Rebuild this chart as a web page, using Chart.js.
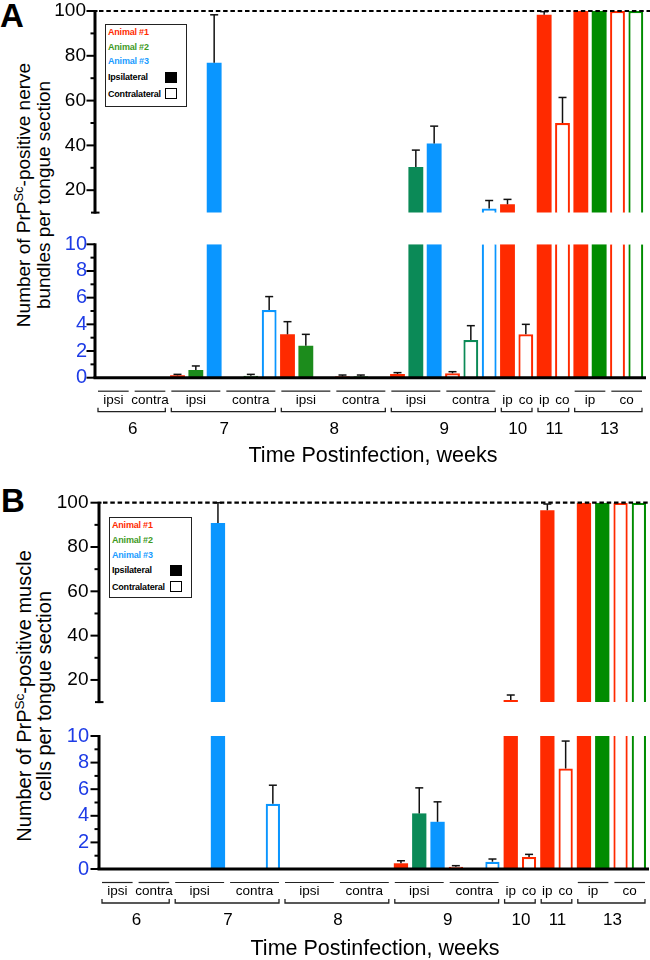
<!DOCTYPE html>
<html><head><meta charset="utf-8">
<script src="https://cdn.jsdelivr.net/npm/chart.js@4.4.1/dist/chart.umd.min.js"></script>
<style>
html,body{margin:0;padding:0;background:#fff;width:650px;height:960px;overflow:hidden;}
body{position:relative;font-family:"Liberation Sans",Arial,Helvetica,sans-serif;color:#000;}
canvas{position:absolute;left:0;}
.letter{position:absolute;font-weight:bold;font-size:33px;line-height:33px;}
.ytitle{position:absolute;transform:rotate(-90deg);text-align:center;white-space:nowrap;line-height:20px;}
.ytitle sup{font-size:0.68em;line-height:0;vertical-align:0.55em;}
.legend{position:absolute;border:1.6px solid #222;box-sizing:border-box;background:#fff;}
.legend .t{position:absolute;left:2px;font-weight:bold;font-size:9px;line-height:10px;white-space:nowrap;letter-spacing:-0.2px;}
.legend .sq{position:absolute;width:12px;height:11px;box-sizing:border-box;border:1.3px solid #000;}
</style></head><body>
<div class="letter" style="left:0px;top:-1px;">A</div>
<div class="letter" style="left:1px;top:484px;">B</div>
<div class="ytitle" style="left:-166px;top:175px;width:400px;height:40px;font-size:19px;">Number of PrP<sup>Sc</sup>-positive nerve<br>bundles per tongue section</div>
<div class="ytitle" style="left:-166px;top:676px;width:400px;height:40px;font-size:20px;">Number of PrP<sup>Sc</sup>-positive muscle<br>cells per tongue section</div>

<div class="legend" style="left:105px;top:24px;width:82px;height:83px;z-index:5;">
  <div class="t" style="top:2.4px;color:#ff2a00;">Animal #1</div>
  <div class="t" style="top:17.4px;color:#3f9a1f;">Animal #2</div>
  <div class="t" style="top:31.4px;color:#1a9cff;">Animal #3</div>
  <div class="t" style="top:47.4px;">Ipsilateral</div>
  <div class="t" style="top:64.4px;">Contralateral</div>
  <div class="sq" style="left:59.4px;top:47.4px;background:#000;"></div>
  <div class="sq" style="left:59.4px;top:63.4px;background:#fff;"></div>
</div>
<div class="legend" style="left:109px;top:517px;width:83px;height:81px;z-index:5;">
  <div class="t" style="top:1.7px;color:#ff2a00;">Animal #1</div>
  <div class="t" style="top:16.7px;color:#3f9a1f;">Animal #2</div>
  <div class="t" style="top:31.7px;color:#1a9cff;">Animal #3</div>
  <div class="t" style="top:46.7px;">Ipsilateral</div>
  <div class="t" style="top:63.7px;">Contralateral</div>
  <div class="sq" style="left:60.4px;top:46.7px;background:#000;"></div>
  <div class="sq" style="left:60.4px;top:63.4px;background:#fff;"></div>
</div>

<script>
Chart.defaults.font.family = '"Liberation Sans", Arial, Helvetica, sans-serif';

// ---------------- DATA ----------------
const categories = [
  '6 ipsi #1','6 ipsi #2','6 contra #1','6 contra #2',
  '7 ipsi #1','7 ipsi #2','7 ipsi #3','7 contra #1','7 contra #2','7 contra #3',
  '8 ipsi #1','8 ipsi #2','8 ipsi #3','8 contra #1','8 contra #2','8 contra #3',
  '9 ipsi #1','9 ipsi #2','9 ipsi #3','9 contra #1','9 contra #2','9 contra #3',
  '10 ip #1','10 co #1','11 ip #1','11 co #1',
  '13 ip #1','13 ip #2','13 co #1','13 co #2'
];
const slotAnimal = [1,2,1,2, 1,2,3,1,2,3, 1,2,3,1,2,3, 1,2,3,1,2,3, 1,1, 1,1, 1,2,1,2];
const slotSide   = ['I','I','C','C', 'I','I','I','C','C','C', 'I','I','I','C','C','C',
                    'I','I','I','C','C','C', 'I','C', 'I','C', 'I','I','C','C'];

const weekLabels = ['6','7','8','9','10','11','13'];
const weekSpans  = [[0,3],[4,9],[10,15],[16,21],[22,23],[24,25],[26,29]];
const sideLabels = ['ipsi','contra','ipsi','contra','ipsi','contra','ipsi','contra','ip','co','ip','co','ip','co'];
const sideSpans  = [[0,1],[2,3],[4,6],[7,9],[10,12],[13,15],[16,18],[19,21],[22,22],[23,23],[24,24],[25,25],[26,27],[28,29]];

const upperTicks = [10,20,30,40,50,60,70,80,90,100];
const lowerTicks = [0,1,2,3,4,5,6,7,8,9,10];
const xTitle = 'Time Postinfection, weeks';

// Panel A: nerve bundles
const nerveMean = [null,null,null,null,
  0.18,0.58,76.9, null,0.15,5.08,
  3.25,2.4,null, 0.1,0.1,null,
  0.28,30.4,40.9, 0.33,2.83,11.8,
  13.7,3.25, 98.3,50.0,
  100,100,100,100];
const nerveSEM = [null,null,null,null,
  0.07,0.3,21.4, null,0.1,1.0,
  0.95,0.85,null, 0.1,0.1,null,
  0.1,7.5,7.7, 0.12,1.07,3.6,
  2.2,0.75, 1.4,11.4,
  null,null,null,null];

// Panel B: muscle cells
const muscleMean = [null,null,null,null,
  null,null,90.8, null,null,4.9,
  null,null,null, null,null,null,
  0.43,4.18,3.55, 0.17,null,0.55,
  10.9,0.9, 96.6,7.55,
  100,100,100,100];
const muscleSEM = [null,null,null,null,
  null,null,9.2, null,null,1.4,
  null,null,null, null,null,null,
  0.19,1.92,1.5, 0.08,null,0.2,
  2.3,0.2, 2.8,2.07,
  null,null,null,null];

// ---------------- STYLE ----------------
const animalColors = {1:'#ff2a00', 2:'#1c8c1c', 3:'#0a96ff'};
const weekGreen = {'9':'#0b8a57', '13':'#008c00'};
const FONT = '"Liberation Sans", Arial, Helvetica, sans-serif';

function slotWeek(i){ return weekSpans.findIndex(([a,b]) => i>=a && i<=b); }
function barColor(i){
  const a = slotAnimal[i];
  if (a === 2) { const w = weekLabels[slotWeek(i)]; return weekGreen[w] || animalColors[2]; }
  return animalColors[a];
}

function axisPlugin(part){
  return {
    id:'axis_'+part,
    afterDatasetsDraw(chart){
      const ctx = chart.ctx, ca = chart.chartArea, ys = chart.scales.y, x = ca.left;
      const ticks = part === 'top' ? upperTicks : lowerTicks;
      ctx.save();
      ctx.strokeStyle = '#000';
      ctx.lineCap = 'butt';
      // vertical axis
      ctx.lineWidth = 3;
      ctx.beginPath();
      ctx.moveTo(x, ys.getPixelForValue(ys.max) - 1);
      ctx.lineTo(x, ys.getPixelForValue(ys.min) + (part==='top'?1:0));
      ctx.stroke();
      ctx.lineWidth = 2;
      ticks.forEach(v => {
        const y = ys.getPixelForValue(v);
        let x0, x1 = x;
        if (part === 'top') {
          if (v === ys.min) { x0 = x - 4; x1 = x + 4.5; }
          else if (v === ys.max) { x0 = x - 8.5; x1 = x + 2.5; }
          else x0 = (v % 20 === 0) ? x - 8.5 : x - 4.5;
        } else {
          x0 = (v % 2 === 0) ? x - 8.5 : x - 4.5;
        }
        ctx.beginPath(); ctx.moveTo(x0, y); ctx.lineTo(x1, y); ctx.stroke();
      });
      if (part === 'top') {
        const y = ys.getPixelForValue(100);
        ctx.lineWidth = 2.2;
        ctx.setLineDash([4.5, 2.8]);
        ctx.beginPath(); ctx.moveTo(x + 4, y); ctx.lineTo(chart.width, y); ctx.stroke();
        ctx.setLineDash([]);
      } else {
        const y = ys.getPixelForValue(0);
        ctx.lineWidth = 3;
        ctx.beginPath(); ctx.moveTo(x - 1.5, y); ctx.lineTo(ca.right + 1, y); ctx.stroke();
      }
      ctx.restore();
    }
  };
}

function errPlugin(mean, sem, part){
  return {
    id:'err_'+part,
    afterDatasetsDraw(chart){
      const ctx = chart.ctx, ys = chart.scales.y, xs = chart.scales.x;
      ctx.save();
      ctx.strokeStyle = '#111';
      ctx.lineWidth = 1.5;
      mean.forEach((m, i) => {
        const s = sem[i];
        if (m == null || s == null) return;
        if (part === 'top' && m < 10) return;
        if (part === 'bottom' && m >= 10) return;
        const x = xs.getPixelForValue(i);
        const yb = ys.getPixelForValue(m);
        const yt = ys.getPixelForValue(Math.min(m + s, ys.max));
        ctx.beginPath(); ctx.moveTo(x, yb); ctx.lineTo(x, yt); ctx.stroke();
        ctx.beginPath(); ctx.moveTo(x - 4, yt); ctx.lineTo(x + 4, yt); ctx.stroke();
      });
      ctx.restore();
    }
  };
}

function xAnnotPlugin(p){
  return {
    id:'xannot',
    afterDraw(chart){
      const ctx = chart.ctx, xs = chart.scales.x, y0 = chart.scales.y.getPixelForValue(0);
      const half = (xs.getPixelForValue(1) - xs.getPixelForValue(0)) / 2;
      ctx.save();
      ctx.fillStyle = '#000'; ctx.strokeStyle = '#222';
      ctx.textAlign = 'center'; ctx.textBaseline = 'alphabetic';
      ctx.font = '13.5px ' + FONT;
      sideSpans.forEach(([a,b], i) => {
        const L = xs.getPixelForValue(a) - half, R = xs.getPixelForValue(b) + half;
        if (b > a) {
          ctx.lineWidth = 1.2;
          ctx.beginPath(); ctx.moveTo(L + 3, y0 + 13.5); ctx.lineTo(R - 3, y0 + 13.5); ctx.stroke();
        }
        ctx.fillText(sideLabels[i], (L + R) / 2, y0 + 26.3);
      });
      weekSpans.forEach(([a,b], i) => {
        const L = xs.getPixelForValue(a) - half, R = xs.getPixelForValue(b) + half;
        ctx.lineWidth = 1.3;
        ctx.beginPath();
        ctx.moveTo(L + 3, y0 + 30); ctx.lineTo(L + 3, y0 + 34);
        ctx.lineTo(R - 3, y0 + 34); ctx.lineTo(R - 3, y0 + 30);
        ctx.stroke();
        ctx.font = '17px ' + FONT;
        ctx.fillText(weekLabels[i], (L + R) / 2 + 1, y0 + 56.3);
      });
      ctx.font = '21.5px ' + FONT;
      ctx.fillText(xTitle, p.titleX, y0 + p.titleBase);
      ctx.restore();
    }
  };
}

function makeCanvas(top, height){
  const c = document.createElement('canvas');
  c.width = 650; c.height = Math.round(height);
  c.style.top = Math.round(top) + 'px';
  c.style.width = '650px'; c.style.height = Math.round(height) + 'px';
  document.body.appendChild(c);
  return c;
}

function buildPanel(p){
  const W = 650;
  // ---- upper segment (10 - 100) ----
  const tTop = Math.round(p.y100) - 24;
  const tBot = Math.round(p.y10top) + 12;
  const c1 = makeCanvas(tTop, tBot - tTop);
  const topData = p.mean.map(v => (v != null && v > 10) ? v : null);
  const dsCommon = (part) => ({
    backgroundColor: ctx => ctx.dataIndex === undefined ? '#000' : (slotSide[ctx.dataIndex] === 'C' ? '#fff' : barColor(ctx.dataIndex)),
    borderColor: ctx => ctx.dataIndex === undefined ? '#000' : barColor(ctx.dataIndex),
    borderWidth: ctx => {
      const i = ctx.dataIndex;
      if (i === undefined || slotSide[i] !== 'C') return 0;
      const trunc = part === 'bottom' && p.mean[i] > 10;
      return {top: trunc ? 0 : 2.2, left: 2.2, right: 2.2, bottom: 0};
    },
    borderSkipped: false,
    barPercentage: p.barPct,
    categoryPercentage: 1
  });
  const yCommon = (pad, color, size, step, cb) => ({
    afterFit: s => { s.width = p.axisX; },
    grid: {display:false, drawTicks:false},
    border: {display:false},
    ticks: {stepSize: step, autoSkip:false, padding: pad, color: color, font:{size:size}, callback: cb}
  });
  new Chart(c1, {
    type:'bar',
    data:{labels: categories, datasets:[Object.assign({data: topData}, dsCommon('top'))]},
    options:{
      responsive:false, animation:false, devicePixelRatio:1,
      layout:{padding:{left:0, right: W - p.right, top: p.y100 - tTop, bottom: tBot - p.y10top}},
      plugins:{legend:{display:false}, tooltip:{enabled:false}},
      scales:{
        x:{display:false, offset:true},
        y:Object.assign({min: upperTicks[0], max: upperTicks[upperTicks.length-1]},
          yCommon(p.padTop, '#000', 19, 10, v => (v % 20 === 0 ? v : '')))
      }
    },
    plugins:[errPlugin(p.mean, p.sem, 'top'), axisPlugin('top')]
  });

  // ---- lower segment (0 - 10) ----
  const bTop = Math.round(p.y10bot) - 22;
  const bBot = p.canvasBottom;
  const c2 = makeCanvas(bTop, bBot - bTop);
  const botData = p.mean.map(v => v == null ? null : Math.min(v, 10));
  new Chart(c2, {
    type:'bar',
    data:{labels: categories, datasets:[Object.assign({data: botData}, dsCommon('bottom'))]},
    options:{
      responsive:false, animation:false, devicePixelRatio:1,
      layout:{padding:{left:0, right: W - p.right, top: p.y10bot - bTop, bottom: bBot - p.y0}},
      plugins:{legend:{display:false}, tooltip:{enabled:false}},
      scales:{
        x:{display:false, offset:true},
        y:Object.assign({min: lowerTicks[0], max: lowerTicks[lowerTicks.length-1]},
          yCommon(p.padBot, '#1e3ce6', 20, 1, v => (v % 2 === 0 ? v : '')))
      }
    },
    plugins:[errPlugin(p.mean, p.sem, 'bottom'), axisPlugin('bottom'), xAnnotPlugin(p)]
  });
}

buildPanel({mean: nerveMean, sem: nerveSEM, axisX: 95, right: 645,
  y100: 11, y10top: 221, y10bot: 244.3, y0: 377.7, canvasBottom: 478,
  padTop: 9, padBot: 8, barPct: 0.81, titleX: 373, titleBase: 84});
buildPanel({mean: muscleMean, sem: muscleSEM, axisX: 99, right: 648,
  y100: 502.7, y10top: 711.5, y10bot: 735.7, y0: 869, canvasBottom: 960,
  padTop: 10.5, padBot: 10, barPct: 0.78, titleX: 375, titleBase: 86});
</script>
</body></html>
